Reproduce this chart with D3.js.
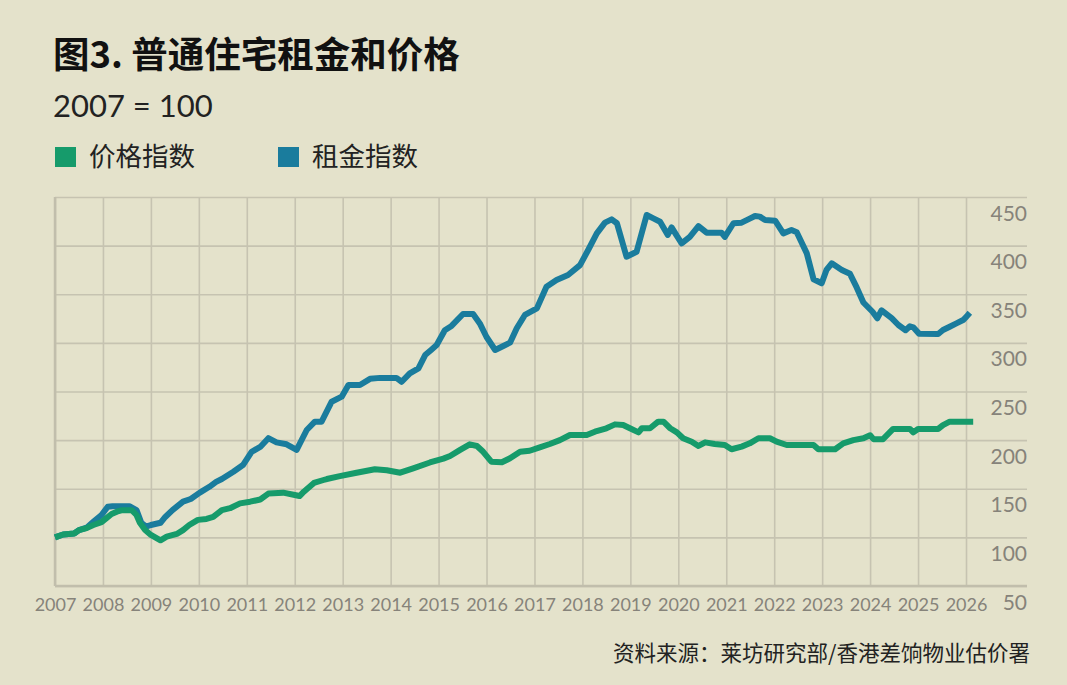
<!DOCTYPE html>
<html>
<head>
<meta charset="utf-8">
<title>图3. 普通住宅租金和价格</title>
<script src="https://d3js.org/d3.v7.min.js"></script>
<style>
  body { margin: 0; background: #e4e2cb; }
  svg { display: block; }
</style>
</head>
<body>
<script>
// ---- data ----
const yearTicks = [2007, 2008, 2009, 2010, 2011, 2012, 2013, 2014, 2015, 2016,
                   2017, 2018, 2019, 2020, 2021, 2022, 2023, 2024, 2025, 2026];
const valueTicks = [50, 100, 150, 200, 250, 300, 350, 400, 450];

const seriesNames = ["价格指数", "租金指数"];
const seriesColors = ["#169b6b", "#1a7c9d"];

// price index (green)
const priceDates = [2007.0, 2007.17, 2007.4, 2007.5, 2007.66, 2007.8, 2007.97, 2008.08, 2008.18, 2008.29,
  2008.4, 2008.6, 2008.7, 2008.77, 2008.88, 2009.0, 2009.2, 2009.33, 2009.54, 2009.67,
  2009.8, 2009.98, 2010.16, 2010.3, 2010.48, 2010.65, 2010.86, 2011.07, 2011.28, 2011.45,
  2011.76, 2012.0, 2012.1, 2012.19, 2012.4, 2012.6, 2012.67, 2012.94, 2013.29, 2013.67,
  2013.92, 2014.2, 2014.47, 2014.82, 2015.1, 2015.24, 2015.45, 2015.65, 2015.8, 2015.93,
  2016.1, 2016.32, 2016.49, 2016.7, 2016.9, 2017.11, 2017.32, 2017.53, 2017.74, 2018.09,
  2018.26, 2018.5, 2018.68, 2018.85, 2018.99, 2019.17, 2019.24, 2019.41, 2019.58, 2019.69,
  2019.83, 2019.97, 2020.1, 2020.28, 2020.42, 2020.56, 2020.76, 2020.97, 2021.11, 2021.32,
  2021.49, 2021.67, 2021.91, 2022.05, 2022.26, 2022.82, 2022.92, 2023.27, 2023.44, 2023.65,
  2023.86, 2024.0, 2024.07, 2024.27, 2024.48, 2024.83, 2024.9, 2025.0, 2025.42, 2025.52,
  2025.66, 2026.15];
const priceValues = [100, 103, 104, 107.5, 109.6, 112.7, 115.6, 120, 124, 126.4,
  128, 128, 123, 115, 107.5, 102.5, 97, 100.7, 103.5, 107.5,
  112.7, 118, 119, 121, 128, 130, 135, 136.7, 139, 145,
  146, 143.6, 142.5, 147, 156, 159, 160, 163, 166.5, 170,
  169, 166.5, 171, 177, 181, 183.7, 190, 195.7, 194, 188,
  177.8, 177.2, 181.3, 188, 189.1, 192.6, 196, 200, 205.3, 205.3,
  208.7, 212.2, 216.2, 215.5, 212.2, 208, 212.2, 212.2, 219, 219,
  212.2, 208, 201.9, 198.4, 194, 197.7, 196, 195, 190.6, 193.3,
  196.7, 201.9, 201.9, 198.4, 195, 195, 190.6, 190.6, 196.7, 200,
  201.9, 205, 201, 201, 211.5, 211.5, 208, 211.5, 211.5, 215.5,
  219, 219];

// rent index (blue)
const rentDates = [2007.0, 2007.17, 2007.4, 2007.5, 2007.66, 2007.8, 2007.97, 2008.1, 2008.2, 2008.55,
  2008.7, 2008.8, 2008.9, 2009.0, 2009.2, 2009.3, 2009.45, 2009.67, 2009.83, 2010.02,
  2010.22, 2010.36, 2010.48, 2010.72, 2010.92, 2011.1, 2011.28, 2011.45, 2011.62, 2011.83,
  2012.04, 2012.25, 2012.42, 2012.56, 2012.77, 2012.98, 2013.12, 2013.36, 2013.57, 2013.78,
  2014.12, 2014.23, 2014.4, 2014.58, 2014.72, 2014.85, 2014.96, 2015.13, 2015.27, 2015.51,
  2015.72, 2015.86, 2016.0, 2016.18, 2016.35, 2016.49, 2016.63, 2016.8, 2017.05, 2017.25,
  2017.46, 2017.7, 2017.95, 2018.12, 2018.3, 2018.47, 2018.61, 2018.72, 2018.92, 2019.13,
  2019.34, 2019.48, 2019.62, 2019.72, 2019.78, 2019.86, 2019.97, 2020.07, 2020.24, 2020.42,
  2020.59, 2020.9, 2020.97, 2021.15, 2021.32, 2021.5, 2021.6, 2021.7, 2021.81, 2022.02,
  2022.19, 2022.36, 2022.47, 2022.68, 2022.82, 2022.99, 2023.09, 2023.2, 2023.41, 2023.58,
  2023.72, 2023.86, 2024.05, 2024.15, 2024.24, 2024.45, 2024.59, 2024.74, 2024.83, 2024.9,
  2025.02, 2025.42, 2025.52, 2025.66, 2025.8, 2025.94, 2026.01, 2026.08];
const rentValues = [100, 103, 104, 107.5, 110, 116, 123, 131.5, 132, 132,
  128, 115, 111, 112.7, 115, 121, 128, 136.7, 139.5, 146,
  152, 157, 160, 167.5, 174.4, 188, 193, 202, 197.7, 195.7,
  190, 210.4, 219, 219, 239.5, 244.7, 256.7, 256.7, 263, 264,
  264, 260, 268.7, 273.8, 287.5, 293, 297.8, 313, 317.4, 329.7,
  329.7, 320, 306, 292.7, 296.8, 300.2, 315, 328.7, 335.5, 357.8,
  364.6, 369.8, 380, 395.5, 412.6, 423.6, 427, 423, 388.6, 393.7,
  431.5, 428, 424.6, 416, 411, 418.8, 410, 402.4, 409, 420,
  413.3, 413.3, 409, 423, 423.6, 428, 430.5, 429.8, 426.3, 425.6,
  412.6, 416, 413.7, 392, 365.4, 361.3, 375, 381.8, 375, 371,
  357, 341.5, 332, 325.3, 333.5, 325.5, 318.4, 313, 317, 316,
  309.5, 309.1, 313.2, 316.6, 320, 323.5, 327, 331];

// ---- layout ----
const w = 1067, h = 685;
const plotLeft = 55, plotRight = 1027, plotTop = 197, plotBottom = 586;

const svg = d3.select("body").append("svg").attr("width", w).attr("height", h);

svg.append("rect").attr("width", w).attr("height", h).attr("fill", "#e4e2cb");

const x = d3.scaleLinear().domain([2007, 2026]).range([plotLeft, 966]);
const y = d3.scaleLinear().domain([50, 450]).range([plotBottom, plotTop]);

// vertical grid + year labels
const xAxis = d3.axisBottom(x)
    .tickValues(yearTicks)
    .tickFormat(d3.format("d"))
    .tickSize(-(plotBottom - plotTop))
    .tickPadding(0);
const gx = svg.append("g")
    .attr("transform", "translate(0," + plotBottom + ")")
    .call(xAxis);
gx.select(".domain").remove();
gx.selectAll("line").attr("stroke", "#c6c3b1").attr("stroke-width", 1.6);
gx.selectAll("text")
    .attr("y", 25)
    .attr("dy", null)
    .attr("fill", "#86837a")
    .style("font-family", "Lato, 'Noto Sans', sans-serif")
    .style("font-size", "18px");

// horizontal grid + value labels (right side, under each line)
const yAxis = d3.axisLeft(y)
    .tickValues(valueTicks)
    .tickSize(-(plotRight - plotLeft))
    .tickPadding(0);
const gy = svg.append("g")
    .attr("transform", "translate(" + plotLeft + ",0)")
    .call(yAxis);
gy.select(".domain").remove();
gy.selectAll("line").attr("stroke", "#c6c3b1").attr("stroke-width", 1.6);
gy.selectAll("text")
    .attr("x", plotRight - plotLeft)
    .attr("dy", 23)
    .attr("text-anchor", "end")
    .attr("fill", "#86837a")
    .style("font-family", "Lato, 'Noto Sans', sans-serif")
    .style("font-size", "21px");

// frame lines (left and bottom slightly heavier)
svg.append("line").attr("x1", plotLeft).attr("x2", plotRight).attr("y1", plotBottom).attr("y2", plotBottom)
    .attr("stroke", "#c1beac").attr("stroke-width", 2.5);
svg.append("line").attr("x1", plotLeft).attr("x2", plotLeft).attr("y1", plotTop).attr("y2", plotBottom)
    .attr("stroke", "#c1beac").attr("stroke-width", 2.5);

// lines
const line = d3.line()
    .x(d => x(d[0]))
    .y(d => y(d[1]));

const rent = d3.zip(rentDates, rentValues);
const price = d3.zip(priceDates, priceValues);

svg.append("path").datum(rent)
    .attr("d", line)
    .attr("fill", "none")
    .attr("stroke", seriesColors[1])
    .attr("stroke-width", 6)
    .attr("stroke-linejoin", "round");

svg.append("path").datum(price)
    .attr("d", line)
    .attr("fill", "none")
    .attr("stroke", seriesColors[0])
    .attr("stroke-width", 6)
    .attr("stroke-linejoin", "round");

// titles
const cjk = "'Noto Sans CJK SC', 'Noto Sans', sans-serif";
svg.append("text").attr("x", 53).attr("y", 68)
    .text("图3. 普通住宅租金和价格")
    .style("font-family", cjk).style("font-weight", "bold").style("font-size", "36.5px")
    .attr("fill", "#111");

svg.append("text").attr("x", 53).attr("y", 117)
    .text("2007 = 100")
    .style("font-family", "Lato, 'Noto Sans', sans-serif").style("font-size", "31px")
    .attr("fill", "#222");

// legend
const legendX = [55, 278];
const legend = svg.selectAll(".legend").data(seriesNames).enter().append("g")
    .attr("class", "legend")
    .attr("transform", (d, i) => "translate(" + legendX[i] + ",0)");
legend.append("rect").attr("x", 0).attr("y", 147).attr("width", 21).attr("height", 20)
    .attr("fill", (d, i) => seriesColors[i]);
legend.append("text").attr("x", 34).attr("y", 166)
    .text(d => d)
    .style("font-family", cjk).style("font-size", "26.5px")
    .attr("fill", "#222");

// source
svg.append("text").attr("x", 1030).attr("y", 661)
    .attr("text-anchor", "end")
    .text("资料来源：莱坊研究部/香港差饷物业估价署")
    .style("font-family", cjk).style("font-size", "21.5px")
    .attr("fill", "#222");
</script>
</body>
</html>
